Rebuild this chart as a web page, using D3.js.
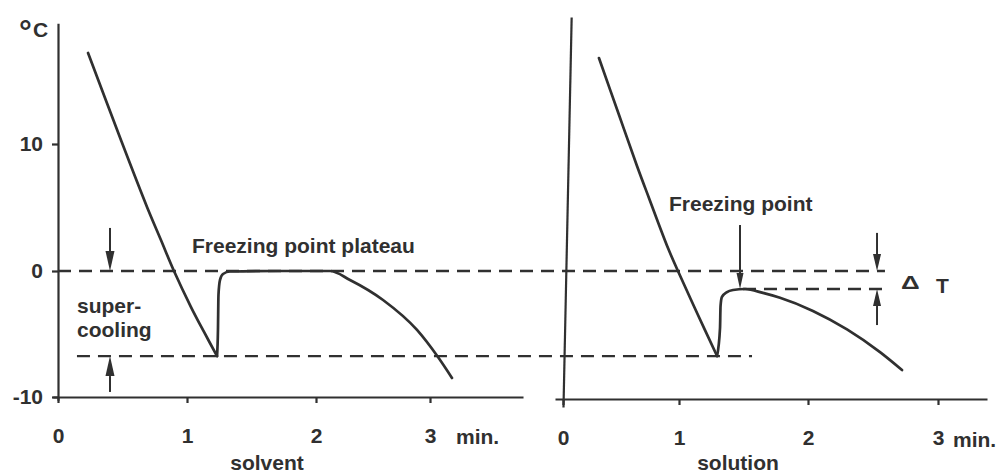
<!DOCTYPE html>
<html>
<head>
<meta charset="utf-8">
<script src="https://cdn.jsdelivr.net/npm/d3@7"></script>
<style>
  html, body { margin: 0; padding: 0; background: #ffffff; }
  svg { display: block; font-family: "Liberation Sans", Arial, Helvetica, sans-serif; }
</style>
</head>
<body>
<svg id="chart" width="1006" height="475"></svg>
<script>
// Axis ticks
const tempTicks = [-10, 0, 10];
const minuteTicks = [0, 1, 2, 3];

// Cooling curve of the pure solvent (time in min, temperature in °C)
const solventTime = [0.233, 0.488, 0.690, 0.798, 0.899, 1.031, 1.132, 1.233, 1.240, 1.244, 1.256, 1.279, 1.333, 1.700, 2.123, 2.298, 2.588, 2.886, 3.070, 3.193];
const solventTemp = [17.17, 10.31, 5.04, 2.44, 0.00, -2.86, -4.84, -6.75, -4.68, -1.90, -0.71, -0.24, -0.04, 0.00, 0.00, -0.71, -2.30, -4.68, -6.83, -8.49];

// Cooling curve of the solution
const solutionTime = [0.310, 0.483, 0.638, 0.741, 0.905, 0.991, 1.140, 1.295, 1.318, 1.322, 1.333, 1.372, 1.419, 1.512, 1.651, 1.783, 2.038, 2.300, 2.554, 2.723];
const solutionTemp = [16.77, 12.28, 8.27, 5.75, 1.81, 0.00, -3.33, -6.75, -4.52, -2.78, -2.06, -1.67, -1.51, -1.43, -1.74, -2.13, -3.17, -4.64, -6.44, -7.86];

// Reference levels (°C)
const solventFreezing = 0;
const solutionFreezing = -1.43;
const supercooledTemp = -6.75;

const ink = "#303030";
const svg = d3.select("#chart");

// Hand-ruled axes: tick spacing is slightly uneven, so piecewise scales follow the drawn ticks
const y  = d3.scaleLinear().domain([-10, 0, 10]).range([397, 271, 144]);
const xL = d3.scaleLinear().domain(minuteTicks).range([58, 187, 316, 430]);
const xR = d3.scaleLinear().domain(minuteTicks).range([563, 679, 808, 938]);

function styleAxis(g) {
  g.selectAll(".domain").attr("stroke", ink).attr("stroke-width", 2.2);
  g.selectAll(".tick line").attr("stroke", ink).attr("stroke-width", 2.2);
  g.selectAll(".tick text")
    .attr("fill", ink)
    .attr("font-size", 21)
    .attr("font-weight", "bold")
    .attr("font-family", "'Liberation Sans', Arial, sans-serif");
}

// ---------- Left panel: solvent ----------
const yLineL = d3.scaleLinear().domain([-10.25, 19.5]).range([y(-10.25), y(19.5)]);
svg.append("g")
  .attr("transform", `translate(${xL(0)},0)`)
  .call(d3.axisLeft(yLineL).tickValues([]).tickSizeOuter(0))
  .call(styleAxis);

svg.append("g")
  .attr("transform", `translate(${xL(0)},0)`)
  .call(d3.axisLeft(y).tickValues(tempTicks).tickSize(6).tickPadding(9).tickFormat(d => String(d)))
  .call(g => g.select(".domain").remove())
  .call(styleAxis);

const xLineL = d3.scaleLinear().domain([-0.04, 3.816]).range([xL(-0.04), xL(3.816)]);
svg.append("g")
  .attr("transform", `translate(0,${y(-10)})`)
  .call(d3.axisBottom(xLineL).tickValues([]).tickSizeOuter(0))
  .call(styleAxis);
svg.append("g")
  .attr("transform", `translate(0,${y(-10)})`)
  .call(d3.axisBottom(xL).tickValues(minuteTicks).tickSize(6).tickPadding(25).tickFormat(d => String(d)))
  .call(g => g.select(".domain").remove())
  .call(styleAxis);

// ---------- Right panel: solution ----------
const yLineR = d3.scaleLinear().domain([-10.8, 20.0]).range([y(-10.8), y(20.0)]);
svg.append("g")
  .attr("transform", `translate(${xR(0)},0) rotate(1.2,0,${y(-10.8)})`)
  .call(d3.axisLeft(yLineR).tickValues([]).tickSizeOuter(0))
  .call(styleAxis);

const xLineR = d3.scaleLinear().domain([-0.069, 3.377]).range([xR(-0.069), xR(3.377)]);
svg.append("g")
  .attr("transform", `translate(0,${y(-10) + 2})`)
  .call(d3.axisBottom(xLineR).tickValues([]).tickSizeOuter(0))
  .call(styleAxis);
svg.append("g")
  .attr("transform", `translate(0,${y(-10) + 2})`)
  .call(d3.axisBottom(xR).tickValues(minuteTicks).tickSize(6).tickPadding(25).tickFormat(d => String(d)))
  .call(g => g.select(".domain").remove())
  .call(styleAxis);

// ---------- Dashed reference levels ----------
const dashed = [
  { x1: xL(0),     x2: xR(2.592), t: solventFreezing },
  { x1: xL(0.147), x2: xR(1.566), t: supercooledTemp },
  { x1: xR(1.496), x2: xR(2.592), t: solutionFreezing }
];
svg.append("g").selectAll("line")
  .data(dashed)
  .join("line")
  .attr("x1", d => d.x1).attr("x2", d => d.x2)
  .attr("y1", d => y(d.t)).attr("y2", d => y(d.t))
  .attr("stroke", ink)
  .attr("stroke-width", 2.3)
  .attr("stroke-dasharray", "13 8");

// ---------- Cooling curves ----------
// The steady fall down to the supercooled minimum is one smooth stroke;
// from the nucleation jump onwards a monotone curve keeps the plateau flat.
const fallLine = d3.line().x(d => d.x).y(d => y(d.t)).curve(d3.curveCatmullRom.alpha(0.5));
const riseLine = d3.line().x(d => d.x).y(d => y(d.t)).curve(d3.curveMonotoneX);

function drawCooling(times, temps, xs) {
  const pts = times.map((m, i) => ({ x: xs(m), t: temps[i] }));
  let iMin = 0;
  while (iMin < pts.length - 1 && pts[iMin + 1].t < pts[iMin].t) iMin++;
  const parts = [[fallLine, pts.slice(0, iMin + 1)], [riseLine, pts.slice(iMin)]];
  parts.forEach(([gen, seg]) => {
    svg.append("path")
      .datum(seg)
      .attr("d", gen)
      .attr("fill", "none")
      .attr("stroke", ink)
      .attr("stroke-width", 2.7)
      .attr("stroke-linecap", "round")
      .attr("stroke-linejoin", "round");
  });
}

drawCooling(solventTime, solventTemp, xL);
drawCooling(solutionTime, solutionTemp, xR);

// ---------- Arrows ----------
function arrow(px, fromT, toT, headLen, headW) {
  const y0 = y(fromT), y1 = y(toT);
  const dir = Math.sign(y1 - y0);
  const base = y1 - dir * headLen;
  svg.append("line")
    .attr("x1", px).attr("x2", px)
    .attr("y1", y0).attr("y2", base)
    .attr("stroke", ink).attr("stroke-width", 2);
  svg.append("path")
    .attr("d", `M${px},${y1} L${px - headW / 2},${base} L${px + headW / 2},${base} Z`)
    .attr("fill", ink);
}

// supercooling span
arrow(xL(0.403), 3.39, solventFreezing, 20, 9);
arrow(xL(0.403), -9.6, supercooledTemp, 20, 9);
// freezing point of the solution
arrow(xR(1.473), 3.62, solutionFreezing, 16, 7);
// freezing point depression
arrow(xR(2.531), 3.0, solventFreezing, 17, 8);
arrow(xR(2.531), -4.29, solutionFreezing, 17, 8);

// ---------- Text ----------
function label(txt, x, yy, opts = {}) {
  return svg.append("text")
    .attr("x", x).attr("y", yy)
    .attr("fill", ink)
    .attr("font-size", opts.size || 21)
    .attr("font-weight", opts.weight || "bold")
    .attr("text-anchor", opts.anchor || "start")
    .text(txt);
}

// unit on the temperature axis
label("°", 19, 42, { size: 32 });
label("C", 33, 37);

label("Freezing point plateau", 192, 253);
label("super-", 77, 313);
label("cooling", 77, 337);
label("min.", 456, 444);
label("solvent", 267, 470, { anchor: "middle" });

label("Freezing point", 669, 211);
// ΔT: a flat outlined delta followed by T
label("Δ", 0, 0, { size: 26 })
  .attr("transform", "translate(901,289) scale(1.0,0.72)");
label("T", 936, 293);
label("min.", 953, 447);
label("solution", 738, 470, { anchor: "middle" });
</script>
</body>
</html>
